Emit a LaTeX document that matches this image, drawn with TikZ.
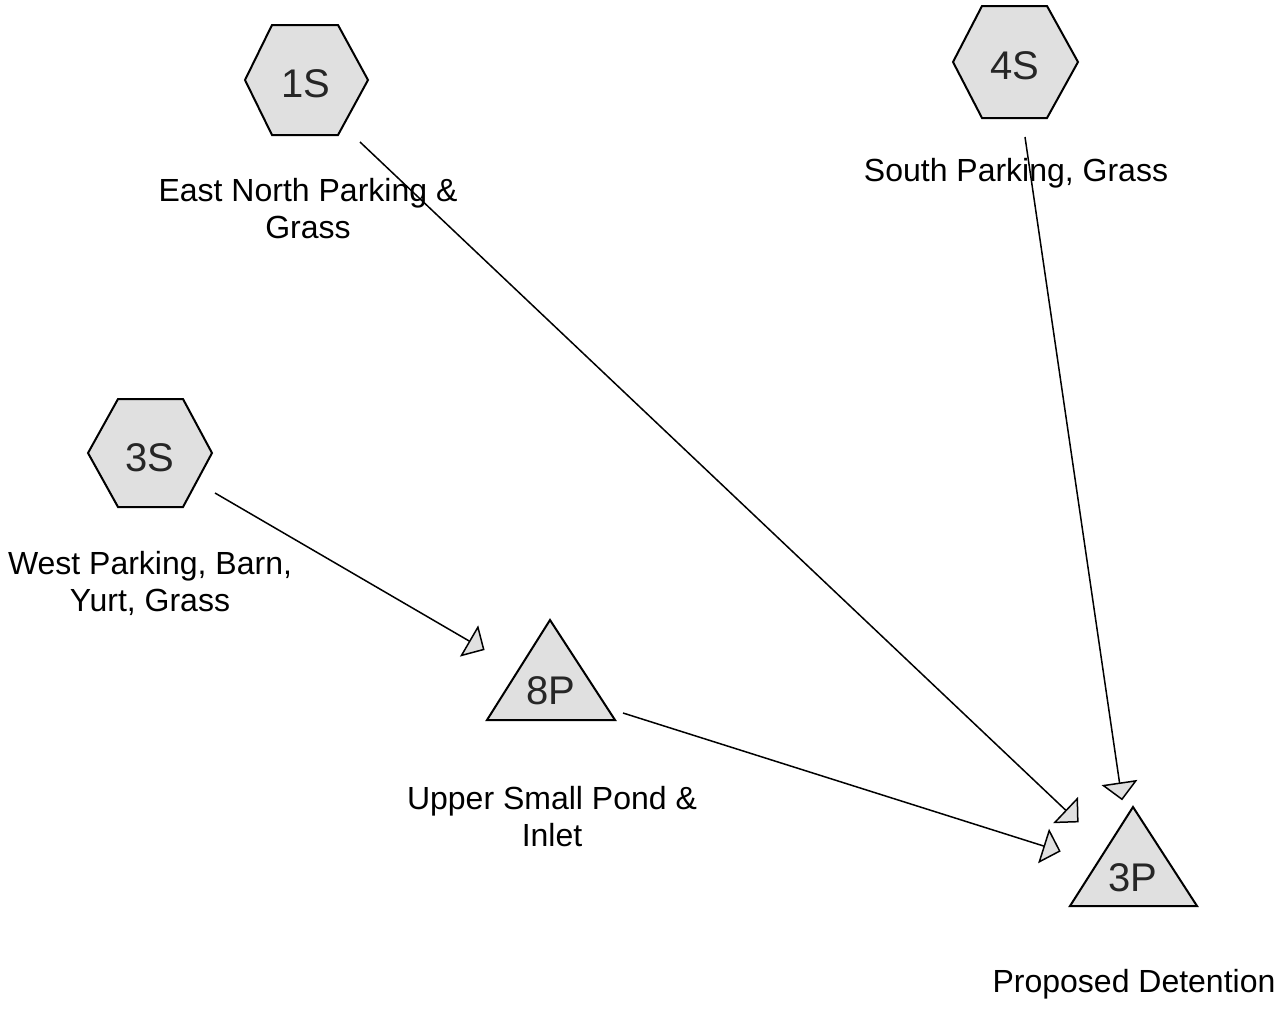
\documentclass[tikz,border=0pt]{standalone}
\usepackage{fontspec}
\setmainfont{Liberation Sans}
\usetikzlibrary{arrows.meta}
\definecolor{shade}{gray}{0.88}
\tikzset{
  shapebox/.style={draw=black, fill=shade, line width=2pt, line join=miter},
  idtext/.style={font=\fontsize{40}{44}\selectfont, text=black!85, inner sep=0pt},
  labeltext/.style={font=\fontsize{32}{37}\selectfont, align=center, inner sep=0pt},
  flow/.style={draw=black, line width=1.5pt, -{Triangle[length=18pt, width=36pt, fill=shade, line join=miter]}},
}
\begin{document}
\begin{tikzpicture}[x=1pt, y=-1pt]
\path[use as bounding box, fill=white] (0,0) rectangle (1279,1012);

% hexagons
\path[shapebox] (272,25) -- (338,25) -- (368,80) -- (338,135) -- (272,135) -- (245,80) -- cycle;
\node[idtext] (h1S) at (306,84) {1S};
\path[shapebox] (982,6) -- (1047,6) -- (1078,62) -- (1047,118) -- (982,118) -- (953,62) -- cycle;
\node[idtext] (h4S) at (1015,66) {4S};
\path[shapebox] (118,399) -- (183,399) -- (212,453) -- (183,507) -- (118,507) -- (88,453) -- cycle;
\node[idtext] (h3S) at (150,458) {3S};

% triangles
\path[shapebox] (550,620) -- (615,720) -- (487,720) -- cycle;
\node[idtext] (t8P) at (551,691) {8P};
\path[shapebox] (1133,807) -- (1197,906) -- (1070,906) -- cycle;
\node[idtext] (t3P) at (1133,878) {3P};

% labels
\node[labeltext] (l1S) at (308,209) {East North Parking \&\\Grass};
\node[labeltext] (l4S) at (1016,173) {South Parking, Grass};
\node[labeltext] (l3S) at (150,583) {West Parking, Barn,\\Yurt, Grass};
\node[labeltext] (l8P) at (552,817) {Upper Small Pond \&\\Inlet};
\node[labeltext] (l3P) at (1134,984) {Proposed Detention};

% connector ends
\coordinate (s1S) at (360,142);
\coordinate (e1S) at (1078.6,822.4);
\coordinate (s3S) at (215,493);
\coordinate (e3S) at (484.6,650);
\coordinate (s4S) at (1025,137);
\coordinate (e4S) at (1122.1,800.3);
\coordinate (s8P) at (623,713);
\coordinate (e8P) at (1060.7,851.4);

\draw[flow] (s1S) -- (e1S);
\draw[flow] (s3S) -- (e3S);
\draw[flow] (s4S) -- (e4S);
\draw[flow] (s8P) -- (e8P);
\end{tikzpicture}
\end{document}
